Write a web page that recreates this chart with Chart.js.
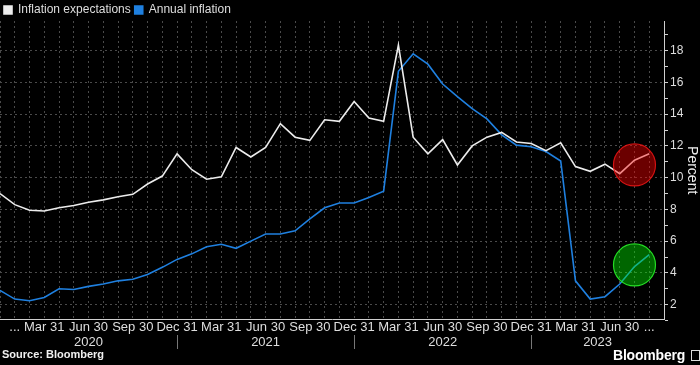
<!DOCTYPE html>
<html>
<head>
<meta charset="utf-8">
<script src="https://cdn.jsdelivr.net/npm/chart.js@4.4.0/dist/chart.umd.min.js"></script>
<style>
  html, body { margin: 0; padding: 0; background: #000; }
  #wrap { position: relative; width: 700px; height: 365px; background: #000; overflow: hidden;
          font-family: "Liberation Sans", Arial, sans-serif; }
  #src { position: absolute; left: 2px; top: 348px; color: #f0f0f0; font-size: 11px; font-weight: bold; }
  #logo { position: absolute; left: 613px; top: 347px; color: #fff; font-size: 14px; font-weight: bold; letter-spacing: -0.2px; }
  #mark { position: absolute; left: 691px; top: 350px; width: 7px; height: 9px; border: 1px solid #ddd; }
</style>
</head>
<body>
<div id="wrap">
  <canvas id="chart" width="700" height="365"></canvas>
  <div id="src">Source: Bloomberg</div>
  <div id="logo">Bloomberg</div>
  <div id="mark"></div>
</div>
<script>
// month-end points, Dec 2019 .. Sep 2023
const months = [
  'Dec 2019',
  'Jan 2020', 'Feb 2020', 'Mar 2020', 'Apr 2020', 'May 2020', 'Jun 2020',
  'Jul 2020', 'Aug 2020', 'Sep 2020', 'Oct 2020', 'Nov 2020', 'Dec 2020',
  'Jan 2021', 'Feb 2021', 'Mar 2021', 'Apr 2021', 'May 2021', 'Jun 2021',
  'Jul 2021', 'Aug 2021', 'Sep 2021', 'Oct 2021', 'Nov 2021', 'Dec 2021',
  'Jan 2022', 'Feb 2022', 'Mar 2022', 'Apr 2022', 'May 2022', 'Jun 2022',
  'Jul 2022', 'Aug 2022', 'Sep 2022', 'Oct 2022', 'Nov 2022', 'Dec 2022',
  'Jan 2023', 'Feb 2023', 'Mar 2023', 'Apr 2023', 'May 2023', 'Jun 2023',
  'Jul 2023', 'Aug 2023', 'Sep 2023'
];

const expectations = [
  9.0,
  8.3, 7.95, 7.9, 8.1, 8.25, 8.45, 8.6, 8.8, 8.95, 9.6, 10.1, 11.5,
  10.5, 9.9, 10.05, 11.9, 11.3, 11.9, 13.4, 12.55, 12.35, 13.65, 13.55, 14.8,
  13.75, 13.55, 18.35, 12.55, 11.5, 12.4, 10.8, 12.0, 12.55, 12.85, 12.25, 12.15,
  11.7, 12.2, 10.7, 10.4, 10.85, 10.25, 11.1, 11.5, null
];

const annualInflation = [
  2.9,
  2.35, 2.25, 2.45, 3.0, 2.95, 3.15, 3.3, 3.5, 3.6, 3.9, 4.35, 4.85,
  5.2, 5.65, 5.8, 5.55, 6.0, 6.45, 6.45, 6.65, 7.4, 8.1, 8.4, 8.4,
  8.75, 9.15, 16.7, 17.8, 17.15, 15.9, 15.1, 14.35, 13.7, 12.7, 12.05, 11.95,
  11.65, 11.05, 3.5, 2.35, 2.5, 3.3, 4.4, 5.15, null
];

// highlight circles
const redCircle = [{ x: 'Jul 2023', y: 10.8, r: 21 }];
const greenCircle = [{ x: 'Jul 2023', y: 4.5, r: 21 }];

const quarterText = { Mar: 'Mar 31', Jun: 'Jun 30', Sep: 'Sep 30', Dec: 'Dec 31' };
const ellipsisAt = ['Jan 2020', 'Aug 2023'];
const blankAt = ['Dec 2019', 'Sep 2023'];

const yTicks = [1, 2, 3, 4, 5, 6, 7, 8, 9, 10, 11, 12, 13, 14, 15, 16, 17, 18, 19];

const yearLabels = ['2020', '2021', '2022', '2023'];
const yearEdges = ['Dec 2019', 'Dec 2020', 'Dec 2021', 'Dec 2022', 'Sep 2023'];

const gridColor = '#4a4a4a';
const axisColor = '#cfcfcf';
const textColor = '#dedede';

// force legend strip height
const legendHeight = {
  id: 'legendHeight',
  beforeInit(chart) {
    const fit = chart.legend.fit;
    chart.legend.fit = function () { fit.call(this); this.height = 21; };
  }
};

// second row of x labels: years with separators
const yearRow = {
  id: 'yearRow',
  afterDraw(chart) {
    const xs = chart.scales.x;
    const c = chart.ctx;
    c.save();
    c.font = '13px "Liberation Sans", Arial, sans-serif';
    c.fillStyle = textColor;
    c.textAlign = 'center';
    c.textBaseline = 'middle';
    c.strokeStyle = '#777';
    c.lineWidth = 1;
    for (let i = 0; i < yearLabels.length; i++) {
      const x0 = xs.getPixelForValue(months.indexOf(yearEdges[i]));
      const x1 = xs.getPixelForValue(months.indexOf(yearEdges[i + 1]));
      c.fillText(yearLabels[i], (x0 + x1) / 2, 342);
      if (i > 0) {
        c.beginPath();
        c.moveTo(Math.round(x0) + 0.5, 335);
        c.lineTo(Math.round(x0) + 0.5, 349);
        c.stroke();
      }
    }
    c.restore();
  }
};

new Chart(document.getElementById('chart'), {
  type: 'line',
  data: {
    labels: months,
    datasets: [
      {
        label: 'Inflation expectations',
        data: expectations,
        borderColor: '#ececec',
        backgroundColor: '#ececec',
        borderWidth: 1.6,
        pointRadius: 0,
        tension: 0
      },
      {
        label: 'Annual inflation',
        data: annualInflation,
        borderColor: '#1f80e0',
        backgroundColor: '#1f80e0',
        borderWidth: 1.6,
        pointRadius: 0,
        tension: 0
      },
      {
        type: 'bubble',
        label: 'expectations marker',
        data: redCircle,
        backgroundColor: 'rgba(255,0,0,0.42)',
        borderColor: 'rgba(230,20,20,0.9)',
        borderWidth: 1.2,
        order: -1
      },
      {
        type: 'bubble',
        label: 'inflation marker',
        data: greenCircle,
        backgroundColor: 'rgba(0,255,0,0.4)',
        borderColor: 'rgba(40,240,40,0.9)',
        borderWidth: 1.2,
        order: -1
      }
    ]
  },
  options: {
    responsive: false,
    animation: false,
    events: [],
    layout: { autoPadding: false, padding: { left: 0, right: 0, top: 0, bottom: 30 } },
    plugins: {
      legend: {
        display: true,
        position: 'top',
        align: 'start',
        labels: {
          color: textColor,
          font: { family: '"Liberation Sans", Arial, sans-serif', size: 12 },
          boxWidth: 8,
          boxHeight: 8,
          padding: 4,
          filter: item => item.datasetIndex < 2
        }
      },
      tooltip: { enabled: false }
    },
    scales: {
      x: {
        type: 'category',
        offset: false,
        grid: { color: gridColor, drawTicks: false, offset: false },
        border: { display: true, color: axisColor, width: 1, dash: [2, 3] },
        ticks: {
          autoSkip: false,
          maxRotation: 0,
          minRotation: 0,
          padding: 0,
          color: textColor,
          font: { family: '"Liberation Sans", Arial, sans-serif', size: 13 },
          callback: (value, index) => {
            const m = months[index];
            if (blankAt.includes(m)) return '';
            if (ellipsisAt.includes(m)) return '...';
            return quarterText[m.slice(0, 3)] || '';
          }
        }
      },
      y: {
        position: 'right',
        min: 1.07,
        max: 19.87,
        afterBuildTicks: s => { s.ticks = yTicks.map(v => ({ value: v })); },
        afterFit: s => { s.width = 36; },
        grid: {
          color: ctx => (ctx.tick && ctx.tick.value % 2 === 0) ? gridColor : 'rgba(0,0,0,0)',
          tickColor: axisColor,
          tickLength: 4
        },
        border: { display: true, color: axisColor, width: 1, dash: [2, 3] },
        ticks: {
          autoSkip: false,
          padding: 2,
          color: textColor,
          font: { family: '"Liberation Sans", Arial, sans-serif', size: 12 },
          callback: v => (v % 2 === 0 ? v : '')
        },
        title: {
          display: true,
          text: 'Percent',
          color: '#eeeeee',
          font: { family: '"Liberation Sans", Arial, sans-serif', size: 14 },
          padding: 0
        }
      }
    }
  },
  plugins: [legendHeight, yearRow]
});
</script>
</body>
</html>
